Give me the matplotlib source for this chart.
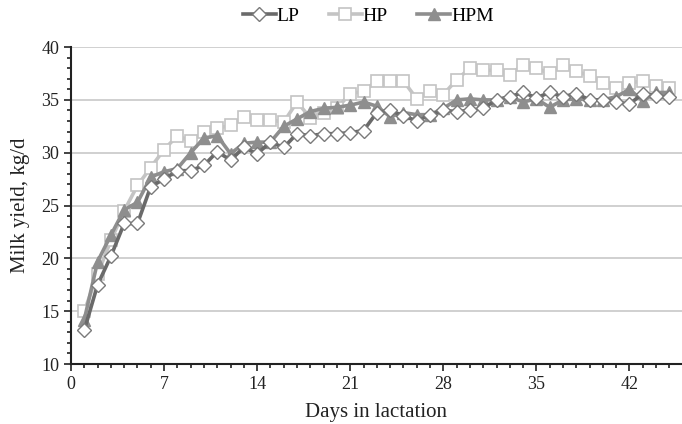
import matplotlib
matplotlib.use('Agg')
from matplotlib import pyplot as plt
from matplotlib.ticker import MultipleLocator

plt.rcParams['font.family'] = ['Liberation Serif', 'DejaVu Serif']

days = list(range(1, 46))
lp = [13.2, 17.5, 20.2, 23.3, 23.3, 26.8, 27.5, 28.3, 28.3, 28.8,
      30.1, 29.3, 30.5, 29.9, 31.0, 30.5, 31.8, 31.6, 31.8, 31.8,
      31.9, 32.1, 33.8, 34.0, 33.5, 33.0, 33.6, 34.0, 33.9, 34.0,
      34.2, 35.0, 35.3, 35.7, 35.2, 35.7, 35.3, 35.6, 35.0, 35.0,
      34.8, 34.6, 35.6, 35.4, 35.3]
hp = [15.0, 18.5, 21.7, 24.5, 26.9, 28.6, 30.3, 31.6, 31.1, 32.0,
      32.3, 32.6, 33.4, 33.1, 33.1, 32.9, 34.8, 33.3, 33.8, 34.2,
      35.6, 35.8, 36.8, 36.8, 36.8, 35.1, 35.8, 35.5, 36.9, 38.0,
      37.8, 37.8, 37.4, 38.3, 38.0, 37.5, 38.3, 37.7, 37.3, 36.6,
      36.1, 36.6, 36.8, 36.3, 36.1]
hpm = [14.2, 19.7, 22.2, 24.6, 25.3, 27.7, 28.2, 28.5, 30.0, 31.4,
       31.6, 29.9, 30.9, 31.0, 31.0, 32.5, 33.2, 33.9, 34.2, 34.3,
       34.5, 34.8, 34.4, 33.4, 33.8, 33.6, 33.6, 34.2, 35.0, 35.1,
       35.0, 35.0, 35.3, 34.8, 35.1, 34.3, 35.0, 35.1, 35.0, 35.0,
       35.3, 36.0, 34.9, 35.7, 35.7]

fig = plt.figure(figsize=(6.82, 4.24), dpi=100)
ax = fig.add_axes([0.1041, 0.1415, 0.8959, 0.7475])

ax.plot(days, hp, color='#c4c4c4', lw=2.6, marker='s', ms=9,
        mfc='white', mec='#c4c4c4', mew=1.2, label='HP', zorder=3)
ax.plot(days, hpm, color='#8e8e8e', lw=2.6, marker='^', ms=9,
        mfc='#8e8e8e', mec='#8e8e8e', label='HPM', zorder=4)
ax.plot(days, lp, color='#6a6a6a', lw=2.6, marker='D', ms=7,
        mfc='white', mec='#7a7a7a', mew=1.0, label='LP', zorder=5)

ax.set_xlim(0, 45.95)
ax.set_ylim(10, 40)
ax.xaxis.set_major_locator(MultipleLocator(7))
ax.xaxis.set_minor_locator(MultipleLocator(1))
ax.yaxis.set_major_locator(MultipleLocator(5))
ax.yaxis.set_minor_locator(MultipleLocator(1))
ax.tick_params(which='major', direction='out', length=5, width=1.2, labelsize=13, colors='#222222')
ax.tick_params(which='minor', direction='out', length=3, width=1.2, colors='#222222')
ax.yaxis.grid(True, which='major', color='#c8c8c8', lw=1.2)
ax.set_axisbelow(True)
for s in ['top', 'right']:
    ax.spines[s].set_visible(False)
for s in ['left', 'bottom']:
    ax.spines[s].set_linewidth(1.5)
    ax.spines[s].set_color('#222222')

ax.set_xlabel('Days in lactation', fontsize=15, color='#222222', labelpad=7)
ax.set_ylabel('Milk yield, kg/d', fontsize=15, color='#222222', labelpad=8)

h, l = ax.get_legend_handles_labels()
order = [2, 0, 1]
fig.legend([h[i] for i in order], [l[i] for i in order], loc='center',
           bbox_to_anchor=(0.54, 0.962), ncol=3, frameon=False, fontsize=14,
           handlelength=1.7, handletextpad=0.05, columnspacing=1.5)

fig.savefig('out.png', dpi=100)
